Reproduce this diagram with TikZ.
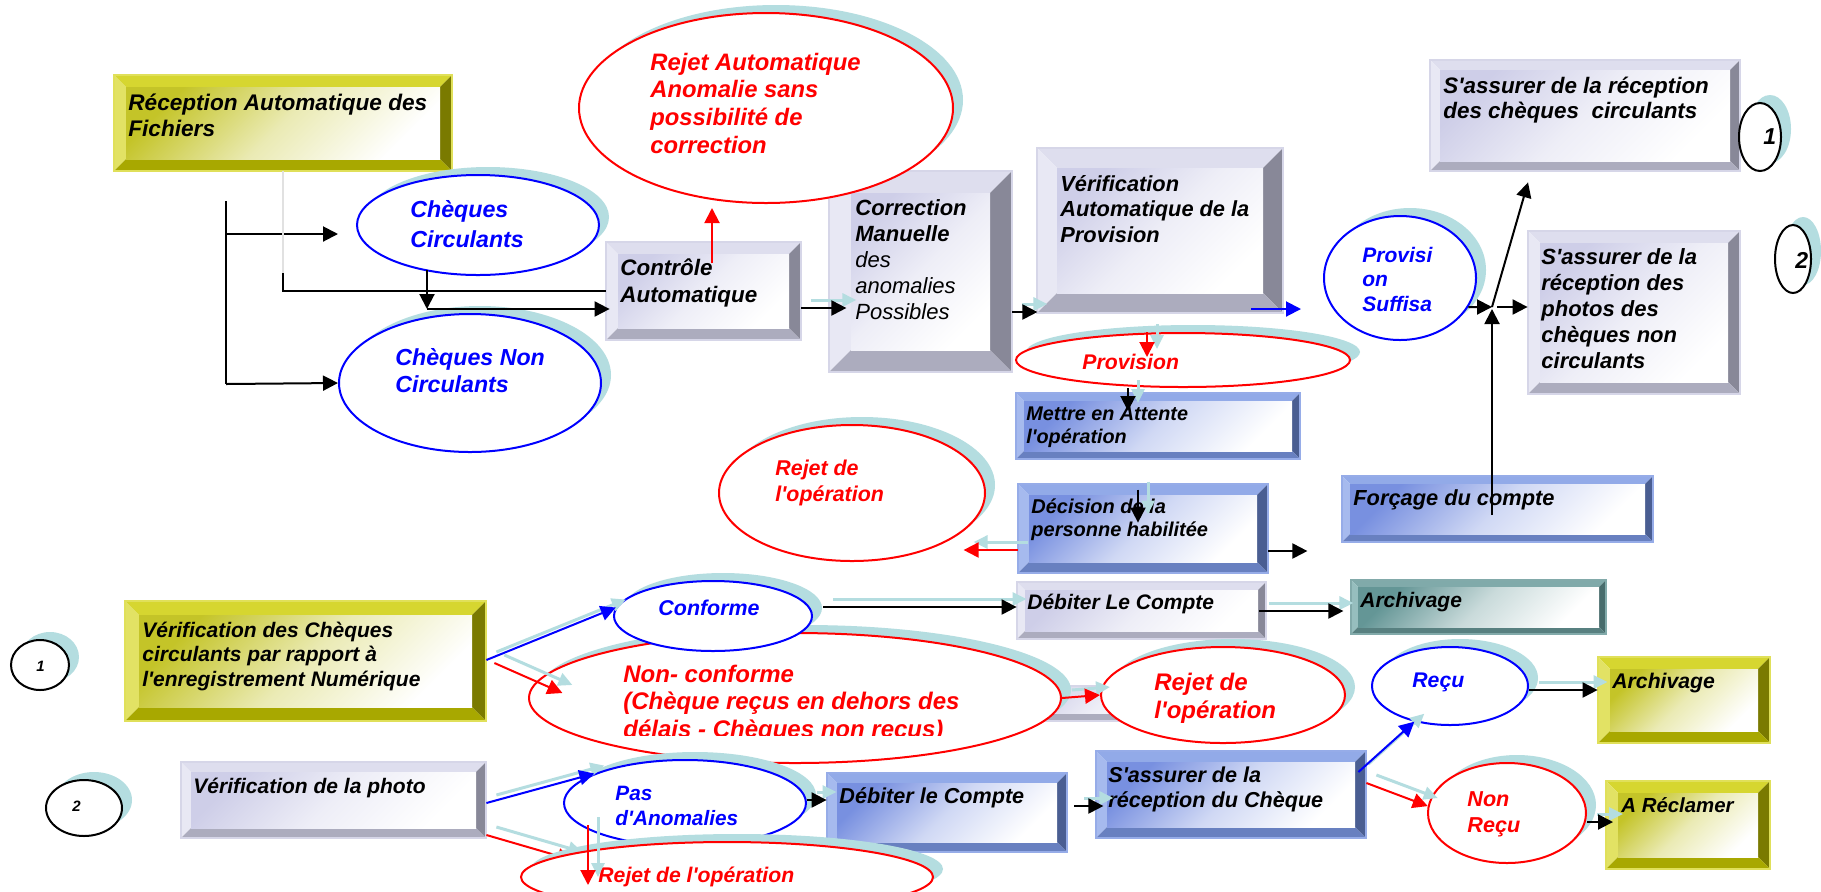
\documentclass[tikz,border=0pt]{standalone}
\usepackage{fontspec}
\setmainfont{Liberation Sans}[Ligatures=TeXOff]
\usetikzlibrary{shapes.geometric,arrows.meta,fit}

% palette: shadow, red, blue
\definecolor{shc}{RGB}{180,221,224}
\definecolor{rd}{RGB}{255,0,0}
\definecolor{bl}{RGB}{0,0,255}
\definecolor{faintc}{RGB}{225,225,225}
% yellow bevel
\definecolor{yT}{RGB}{214,214,48}
\definecolor{yL}{RGB}{226,226,100}
\definecolor{yR}{RGB}{122,122,0}
\definecolor{yB}{RGB}{168,168,0}
\definecolor{yF}{RGB}{196,196,40}
\definecolor{yE}{RGB}{224,224,90}
% lavender bevel
\definecolor{gT}{RGB}{222,222,238}
\definecolor{gL}{RGB}{232,232,244}
\definecolor{gR}{RGB}{136,136,152}
\definecolor{gB}{RGB}{172,172,190}
\definecolor{gF}{RGB}{206,206,232}
\definecolor{gE}{RGB}{214,214,232}
% blue bevel
\definecolor{bT}{RGB}{146,170,232}
\definecolor{bL}{RGB}{166,186,238}
\definecolor{bR}{RGB}{74,94,146}
\definecolor{bB}{RGB}{104,128,192}
\definecolor{bF}{RGB}{120,144,224}
\definecolor{bE}{RGB}{150,172,232}
% teal bevel
\definecolor{tT}{RGB}{128,170,170}
\definecolor{tL}{RGB}{150,190,190}
\definecolor{tR}{RGB}{72,108,108}
\definecolor{tB}{RGB}{88,128,128}
\definecolor{tF}{RGB}{100,150,150}
\definecolor{tE}{RGB}{130,170,170}

\newcommand\fz[2]{\fontsize{#1pt}{#2pt}\selectfont}

\tikzset{
  lab/.style={anchor=base west, inner sep=0pt},
  f/.style 2 args={font=\fz{#1}{#2}\bfseries\itshape},
  oval/.style={ellipse, fill=white, line width=1pt, inner sep=0pt,
    preaction={fill=shc, draw=none, transform canvas={shift={(5pt,4pt)}}}},
  arr/.style={draw=black, line width=1pt, -{Triangle[length=7.5pt,width=7.5pt]}},
  rarr/.style={arr, draw=rd},
  barr/.style={arr, draw=bl},
  ln/.style={draw=black, line width=1pt},
  faint/.style={draw=faintc, line width=0.6pt},
  ghost/.style={draw=shc, line width=1.5pt, -{Triangle[length=7pt,width=6.5pt]},
    transform canvas={shift={(5pt,4pt)}}},
}

% bevelled box: name, x1, y1, x2, y2, bevel, palette
\newcommand\bevbox[7]{%
  \fill[#7T] (#2,#3) -- (#4,#3) -- ({#4-#6},{#3+#6}) -- ({#2+#6},{#3+#6}) -- cycle;
  \fill[#7L] (#2,#3) -- ({#2+#6},{#3+#6}) -- ({#2+#6},{#5-#6}) -- (#2,#5) -- cycle;
  \fill[#7R] (#4,#3) -- (#4,#5) -- ({#4-#6},{#5-#6}) -- ({#4-#6},{#3+#6}) -- cycle;
  \fill[#7B] (#2,#5) -- (#4,#5) -- ({#4-#6},{#5-#6}) -- ({#2+#6},{#5-#6}) -- cycle;
  \shade[top color=#7F, bottom color=white, middle color=#7F!35!white, shading angle=45]
    ({#2+#6},{#3+#6}) rectangle ({#4-#6},{#5-#6});
  \draw[#7E, line width=0.6pt] (#2,#3) rectangle (#4,#5);
  \coordinate (#1-nw) at (#2,#3);
  \coordinate (#1-se) at (#4,#5);
  \node[fit=(#1-nw)(#1-se), inner sep=0pt] (#1) {};
}
% ellipse: name, cx, cy, rx, ry, colour
\newcommand\ovl[6]{\node[oval, draw=#6, minimum width=#4pt, minimum height=#5pt] (#1) at (#2,#3) {};}
% text block: name, first baseline, options, lines
\newcommand\tx[4]{\node[lab,#3] (#1) at #2 {\begin{tabular}[t]{@{}l@{}}#4\end{tabular}};}
% connector with its pale offset copy
\newcommand\conn[3]{\draw[ghost] #2 -- #3; \draw[#1] #2 -- #3;}

\begin{document}
\begin{tikzpicture}[x=0.5pt,y=-0.5pt]
\useasboundingbox (0,0) rectangle (1821,891);
\clip (0,0) rectangle (1821,891);
\fill[white] (0,0) rectangle (1821,891);

% ---------- boxes ----------
\bevbox{hid}{1000}{686}{1200}{721}{8}{g}
\bevbox{rec}{114}{75}{452}{171}{12}{y}
\bevbox{ctl}{606}{242}{801}{340}{12}{g}
\bevbox{cor}{829}{171}{1012}{372}{22}{g}
\bevbox{ver}{1037}{148}{1283}{313}{20}{g}
\bevbox{sa1}{1430}{60}{1740}{171}{10}{g}
\bevbox{sa2}{1528}{231}{1740}{394}{12}{g}
\bevbox{mea}{1016}{393}{1300}{459}{8}{b}
\bevbox{dec}{1018}{484}{1268}{573}{11}{b}
\bevbox{frc}{1342}{476}{1653}{542}{8}{b}
\bevbox{deb1}{1017}{582}{1266}{639}{8}{g}
\bevbox{arc1}{1351}{580}{1606}{634}{7}{t}
\bevbox{vc}{125}{601}{486}{721}{14}{y}
\bevbox{vp}{181}{762}{486}{838}{10}{g}
\bevbox{deb2}{827}{773}{1067}{852}{10}{b}
\bevbox{sar}{1096}{751}{1366}{838}{11}{b}
\bevbox{arc2}{1598}{657}{1770}{743}{12}{y}
\bevbox{arc3}{1606}{781}{1770}{869}{12}{y}

% ---------- ellipses ----------
\ovl{ra}{766}{108}{187}{95}{rd}
\ovl{cc}{478}{225}{121}{50}{bl}
\ovl{cnc}{470}{383}{131}{69}{bl}
\ovl{prv}{1183}{360}{167}{27}{rd}
\ovl{ps}{1400}{278}{76}{62}{bl}
\ovl{rm}{852}{493}{133}{68}{rd}
\ovl{c1}{1760}{137}{21}{34}{black}
\ovl{c2}{1793}{259}{18}{34}{black}
\ovl{cb1}{40}{665}{29}{25}{black}
\ovl{cb2}{84}{808}{38}{28}{black}
\ovl{nc}{795}{698}{266}{65}{rd}
\ovl{conf}{713}{616}{99}{35}{bl}
\ovl{rr}{1223}{695}{122}{48}{rd}
\ovl{pas}{685}{803}{121}{43}{bl}
% line from the photo check, running under the lower reject ellipse
\draw[ghost] (vp.east |- 0,835) -- ++(86,25);
\draw[rarr] (vp.east |- 0,835) -- ++(86,25);
\ovl{rb}{727}{877}{206}{35}{rd}
\ovl{recu}{1450}{686}{78}{39}{bl}
\ovl{nr}{1507}{813}{79}{50}{rd}

% ---------- texts ----------
\tx{rec-t}{(128,110)}{f={11.3}{13}}{Réception Automatique des\\Fichiers}
\tx{ra-t}{(650,70)}{f={11.9}{13.85},text=rd}{Rejet Automatique\\Anomalie sans\\possibilité de\\correction}
\tx{cc-t}{(410,217)}{f={11.6}{15},text=bl}{Chèques\\Circulants}
\tx{cnc-t}{(395,365)}{f={11.6}{13.5},text=bl}{Chèques Non\\Circulants}
\tx{ctl-t}{(620,275)}{f={11.2}{13.5}}{Contrôle\\Automatique}
\tx{cor-t}{(855,215)}{f={11}{13.1}}{Correction\\Manuelle\\\mdseries des\\\mdseries anomalies\\\mdseries Possibles}
\tx{ver-t}{(1060,191)}{f={10.9}{12.75}}{Vérification\\Automatique de la\\Provision}
\tx{prv-t}{(1082,369)}{f={10.6}{12},text=rd}{Provision}
\tx{ps-t}{(1362,262)}{f={10.5}{12.25},text=bl}{Provisi\\on\\Suffisa}
\tx{sa1-t}{(1443,93)}{f={11.2}{12.8}}{S'assurer de la réception\\des chèques\ \ circulants}
\tx{sa2-t}{(1541,264)}{f={11}{13.1}}{S'assurer de la\\réception des\\photos des\\chèques non\\circulants}
\tx{c1-t}{(1763,144)}{f={11.5}{13}}{1}
\tx{c2-t}{(1795,268)}{f={11.5}{13}}{2}
\tx{mea-t}{(1026,420)}{f={9.9}{11.5}}{Mettre en Attente\\l'opération}
\tx{dec-t}{(1031,513)}{f={10}{11.5}}{Décision de la\\personne habilitée}
\tx{rm-t}{(775,475)}{f={10.7}{13.3},text=rd}{Rejet de\\l'opération}
\tx{frc-t}{(1353,505)}{f={10.9}{12}}{Forçage du compte}
\tx{deb1-t}{(1027,609)}{f={10.5}{12}}{Débiter Le Compte}
\tx{arc1-t}{(1360,607)}{f={10.5}{12}}{Archivage}
\tx{vc-t}{(142,637)}{f={10.5}{12.25}}{Vérification des Chèques\\circulants par rapport à\\l'enregistrement Numérique}
\tx{vp-t}{(193,793)}{f={10.5}{12}}{Vérification de la photo}
\node[inner sep=0pt, anchor=base, f={10.7}{12}, text=bl] (conf-t) at (709,615) {Conforme};
\begin{scope}
  % the third line is cut at its baseline by the text frame
  \clip (560,640) rectangle (1060,735);
  \tx{nc-t}{(623,682)}{f={12}{13.75},text=rd}{Non- conforme\\(Chèque reçus en dehors des\\délais - Chèques non recus)}
\end{scope}
\tx{rr-t}{(1154,690)}{f={12}{14},text=rd}{Rejet de\\l'opération}
\tx{pas-t}{(615,800)}{f={10.4}{12.5},text=bl}{Pas\\d'Anomalies}
\tx{rb-t}{(598,882)}{f={10.6}{12},text=rd}{Rejet de l'opération}
\tx{deb2-t}{(839,803)}{f={10.8}{12}}{Débiter le Compte}
\tx{sar-t}{(1108,782)}{f={10.8}{12.5}}{S'assurer de la\\réception du Chèque}
\tx{recu-t}{(1412,687)}{f={10.6}{12},text=bl}{Reçu}
\tx{arc2-t}{(1612,688)}{f={10.6}{12}}{Archivage}
\tx{nr-t}{(1467,806)}{f={10.8}{13},text=rd}{Non\\Reçu}
\tx{arc3-t}{(1621,812)}{f={10.2}{12}}{A Réclamer}
\tx{cb1-t}{(36,671)}{f={7.5}{9}}{1}
\tx{cb2-t}{(72,811)}{f={7.5}{9}}{2}

% ---------- connectors ----------
\coordinate (t1) at (226,201);
\coordinate (t2) at (226,384);
\coordinate (t3) at (226,234);
\coordinate (j1) at (283,273);
\coordinate (j2t) at (427,270);
\coordinate (j2) at (427,309);
\coordinate (r1) at (712,263);
\coordinate (vb) at (1251,309);
\coordinate (J) at (1492,307);

\draw[ln] (t1) -- (t2);
\draw[arr] (t3) -- ([xshift=-9pt]t3 -| cc.west);
\draw[arr] (t2) -- (cnc.west);
\draw[faint] (rec.south) -- (j1);
\draw[ln] (j1) |- (ctl.west);
\draw[arr] (j2t) -- (j2);
\draw[arr] (j2) -- ([xshift=2pt]j2 -| ctl.west);
\draw[rarr] (r1) -- ([yshift=-2pt]r1 |- ra.south);
\conn{arr}{(ctl.east |- 0,308)}{++(45,0)}
\conn{arr}{(cor.east |- 0,312)}{++(25,0)}
\draw[barr] (vb) -- ([xshift=-11pt]vb -| ps.west);
\conn{rarr}{(prv.north -| 1147,0)}{++(0,25)}
\conn{arr}{(prv.south -| 1128,0)}{++(0,23)}
\conn{arr}{([yshift=-3pt]dec.north -| 1138,0)}{++(0,33)}
\conn{rarr}{(dec.west |- 0,550)}{++(-54,0)}
\draw[arr] (dec.east |- 0,551) -- ++(39,0);
\draw[arr] (ps.337) -- (J);
\draw[arr] ([xshift=2.5pt]J) -- (J -| sa2.west);
\draw[arr] (J) -- ([yshift=-5.5pt]sa1.south -| 1528,0);
\draw[arr] ([yshift=-3pt]frc.center -| J) -- ([yshift=-1pt]J);

\conn{barr}{(vc.east |- 0,660)}{(conf.175)}
\conn{rarr}{([xshift=4pt]vc.east |- 0,663)}{++(68,30)}
\conn{arr}{([xshift=5pt]conf.east |- 0,607)}{(deb1.west |- 0,607)}
\conn{arr}{([xshift=-3.5pt]deb1.east |- 0,611)}{++(84,0)}
\conn{rarr}{(nc.east)}{(rr.west)}
\conn{barr}{(vp.east |- 0,803)}{(pas.162)}
\conn{rarr}{([shift={(-48.5pt,-11pt)}]pas.center)}{++(0,60)}
\conn{arr}{(pas.east |- 0,800)}{(deb2.west |- 0,800)}
\conn{arr}{([xshift=3.5pt]deb2.east |- 0,806)}{++(29,0)}
\conn{barr}{([xshift=-4pt]sar.east |- 0,772)}{(recu.225)}
\conn{rarr}{(sar.east |- 0,783)}{(nr.175)}
\conn{arr}{(recu.east |- 0,690)}{(arc2.west |- 0,690)}
\conn{arr}{(nr.east |- 0,822)}{++(26,0)}
\end{tikzpicture}
\end{document}
